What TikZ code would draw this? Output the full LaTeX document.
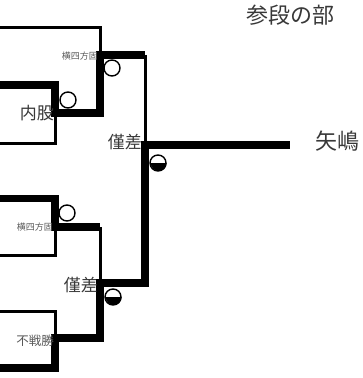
\documentclass[tikz,border=0pt]{standalone}
\usepackage{fontspec}
\usepackage{tikz}
\newfontfamily\jp{Noto Sans CJK JP}

\begin{document}
\begin{tikzpicture}[x=1pt, y=-1pt,
    won/.style={line width=7.5pt, line join=miter},
    lost/.style={line width=3pt, line join=miter},
    winmark/.style={circle, draw, line width=1.4pt, minimum size=16pt, inner sep=0pt, fill=white},
    tag/.style={inner sep=0pt, text=black!78, font=\jp}]
    \useasboundingbox (0,0) rectangle (363,378);
    \coordinate (p1) at (0,27.5);
    \coordinate (p2) at (0,85);
    \coordinate (p3) at (0,143);
    \coordinate (p4) at (0,198.5);
    \coordinate (p5) at (0,255.5);
    \coordinate (p6) at (0,311.5);
    \coordinate (p7) at (0,368);
    \coordinate (j1) at (55,113);
    \coordinate (j2) at (100,55);
    \coordinate (j3) at (55,227);
    \coordinate (j4) at (55,338);
    \coordinate (j5) at (100,283);
    \coordinate (j6) at (145,145);
    \coordinate (t1) at (j2 -| j6);
    \coordinate (t2) at (j3 -| j5);
    \coordinate (end) at (290,145);
    \draw[lost] (p1) -| (j2);
    \draw[lost] (p3) -| (j1);
    \draw[lost] (t1) -- (j6);
    \draw[lost] (p5) -| (j3);
    \draw[lost] (t2) -- (j5);
    \draw[lost] (p6) -| (j4);
    \draw[won] (p2) -| (j1) -| (j2) -- (t1);
    \draw[won] (p4) -| (j3) -- (t2);
    \draw[won] (p7) -| (j4) -| (j5) -| (j6) -- (end);
    \node[tag, font=\jp\fontsize{22}{22}\selectfont] (title) at (290,15) {参段の部};
    \node[tag, font=\jp\fontsize{22}{22}\selectfont, anchor=west] (name) at (315,141) {矢嶋};
    \node[tag, font=\jp\fontsize{17}{17}\selectfont, anchor=east] (k1) at (54,113) {内股};
    \node[tag, font=\jp\fontsize{9}{9}\selectfont, text=black!65, anchor=east] (k2) at (98,56) {横四方固};
    \node[tag, font=\jp\fontsize{17}{17}\selectfont, anchor=east] (k3) at (142,142) {僅差};
    \node[tag, font=\jp\fontsize{9}{9}\selectfont, text=black!65, anchor=east] (k4) at (53,227) {横四方固};
    \node[tag, font=\jp\fontsize{17}{17}\selectfont, anchor=east] (k5) at (98,285) {僅差};
    \node[tag, font=\jp\fontsize{12.5}{12.5}\selectfont, text=black!65, anchor=east] (k6) at (54,341) {不戦勝};
    \node[winmark] (w1) at (68,100) {};
    \node[winmark] (w2) at (112,68) {};
    \node[winmark] (w3) at (158,163) {};
    \fill (w3.east) arc[start angle=0, end angle=180, radius=8] -- cycle;
    \node[winmark] (w4) at (67,213) {};
    \node[winmark] (w5) at (113,297) {};
    \fill (w5.east) arc[start angle=0, end angle=180, radius=8] -- cycle;
\end{tikzpicture}
\end{document}
